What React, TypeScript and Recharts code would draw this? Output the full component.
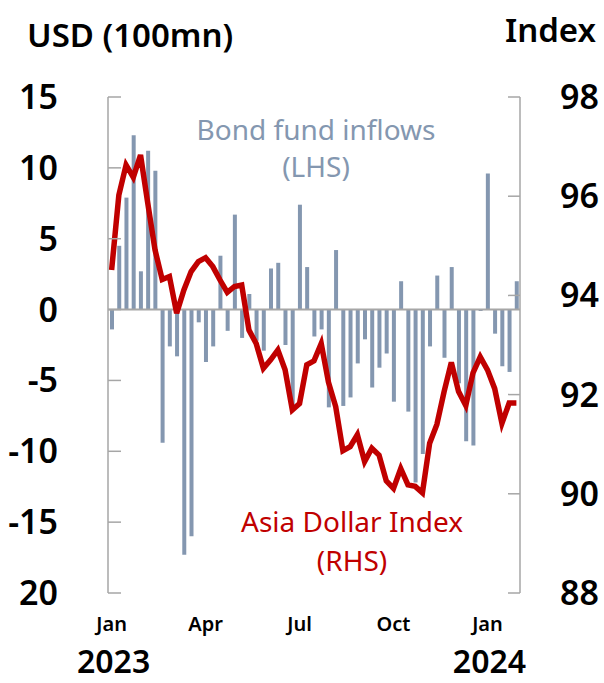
import { ComposedChart, Bar, Line, XAxis, YAxis, ReferenceLine } from 'recharts'

// week ending dates (Fridays)
const weeks = [
	'2023-01-06', '2023-01-13', '2023-01-20', '2023-01-27',
	'2023-02-03', '2023-02-10', '2023-02-17', '2023-02-24',
	'2023-03-03', '2023-03-10', '2023-03-17', '2023-03-24', '2023-03-31',
	'2023-04-07', '2023-04-14', '2023-04-21', '2023-04-28',
	'2023-05-05', '2023-05-12', '2023-05-19', '2023-05-26',
	'2023-06-02', '2023-06-09', '2023-06-16', '2023-06-23', '2023-06-30',
	'2023-07-07', '2023-07-14', '2023-07-21', '2023-07-28',
	'2023-08-04', '2023-08-11', '2023-08-18', '2023-08-25',
	'2023-09-01', '2023-09-08', '2023-09-15', '2023-09-22', '2023-09-29',
	'2023-10-06', '2023-10-13', '2023-10-20', '2023-10-27',
	'2023-11-03', '2023-11-10', '2023-11-17', '2023-11-24',
	'2023-12-01', '2023-12-08', '2023-12-15', '2023-12-22', '2023-12-29',
	'2024-01-05', '2024-01-12', '2024-01-19', '2024-01-26',
	'2024-02-02',
]

// USD 100mn, left axis
const bondFlows = [
	-1.4, 4.5, 7.9, 12.3, 2.7, 11.2, 9.8, -9.4, -2.6, -3.3,
	-17.3, -16.0, -0.9, -3.7, -2.6, 3.8, -1.5, 6.7, -2.0, 1.1,
	-2.2, -2.9, 2.9, 3.3, -2.5, -7.0, 7.4, 3.0, -1.9, -1.4,
	-6.9, 4.2, -6.8, -6.2, -3.8, -2.1, -5.5, -4.1, -3.1, -6.5,
	2.0, -7.2, -12.2, -10.2, -2.6, 2.4, -3.4, 3.0, -5.2, -9.3,
	-9.6, -0.1, 9.6, -1.7, -4.0, -4.4, 2.0,
]

// index, right axis
const asiaDollarIndex = [
	94.51, 96.02, 96.63, 96.38, 96.83, 95.86, 94.92, 94.32, 94.38, 93.64,
	94.11, 94.48, 94.68, 94.76, 94.58, 94.31, 94.06, 94.18, 94.21, 93.3,
	93.03, 92.53, 92.7, 92.9, 92.5, 91.69, 91.82, 92.6, 92.68, 93.03,
	92.25, 91.76, 90.87, 90.95, 91.19, 90.65, 90.92, 90.78, 90.26, 90.11,
	90.51, 90.18, 90.15, 90.02, 91.02, 91.4, 92.06, 92.65, 92.06, 91.78,
	92.44, 92.76, 92.5, 92.12, 91.42, 91.83, 91.83,
]

const leftTicks = [15, 10, 5, 0, -5, -10, -15, -20]
const leftTickLabels = ['15', '10', '5', '0', '-5', '-10', '-15', '20']
const rightTicks = [88, 90, 92, 94, 96, 98]
const monthTicks = ['2023-01-06', '2023-04-07', '2023-07-07', '2023-10-06', '2024-01-05']
const monthLabels = ['Jan', 'Apr', 'Jul', 'Oct', 'Jan']
const yearLabels = ['2023', '', '', '', '2024']

const data = weeks.map((week, i) => ({
	week,
	flows: bondFlows[i],
	adxy: asiaDollarIndex[i],
}))

const FONT = '"Noto Sans", sans-serif'
const AXIS_GREY = '#a6a6a6'
const BAR_COLOR = '#8497b0'
const LINE_COLOR = '#c00000'
const WEIGHT = 600

function LeftTick({ x, y, payload }: any) {
	const idx = leftTicks.indexOf(payload.value)
	return (
		<g>
			<line x1={x} x2={x + 13} y1={y} y2={y} stroke={AXIS_GREY} strokeWidth={1.5} />
			<text x={x - 50} y={y} dy={12} textAnchor="end" fontSize={34} fontWeight={WEIGHT} fontFamily={FONT} fill="#000">
				{leftTickLabels[idx]}
			</text>
		</g>
	)
}

function RightTick({ x, y, payload }: any) {
	return (
		<g>
			<line x1={x - 12} x2={x} y1={y} y2={y} stroke={AXIS_GREY} strokeWidth={1.5} />
			<text x={x + 40} y={y} dy={12} textAnchor="start" fontSize={34} fontWeight={WEIGHT} fontFamily={FONT} fill="#000">
				{payload.value}
			</text>
		</g>
	)
}

function MonthTick({ x, y, payload }: any) {
	const idx = monthTicks.indexOf(payload.value)
	if (idx < 0) return null
	return (
		<g>
			<text x={x} y={y + 38} textAnchor="middle" fontSize={20} fontWeight={WEIGHT} fontFamily={FONT} fill="#000">
				{monthLabels[idx]}
			</text>
			{yearLabels[idx] && (
				<text x={x + 2} y={y + 80} textAnchor="middle" fontSize={32} fontWeight={WEIGHT} fontFamily={FONT} fill="#000">
					{yearLabels[idx]}
				</text>
			)}
		</g>
	)
}

export default function App() {
	return (
		<div style={{ position: 'absolute', left: 0, top: 0, width: 604, height: 683, background: '#fff' }}>
			<ComposedChart
				width={604}
				height={683}
				data={data}
				margin={{ top: 97, right: 0, bottom: 0, left: 0 }}
			>
				<XAxis
					dataKey="week"
					ticks={monthTicks}
					interval={0}
					axisLine={false}
					tickLine={false}
					tickSize={0}
					tickMargin={0}
					height={90}
					tick={<MonthTick />}
				/>
				<YAxis
					yAxisId="left"
					width={108}
					domain={[-20, 15]}
					ticks={leftTicks}
					interval={0}
					axisLine={{ stroke: AXIS_GREY, strokeWidth: 1.5 }}
					tickLine={false}
					tickSize={0}
					tickMargin={0}
					tick={<LeftTick />}
				/>
				<YAxis
					yAxisId="right"
					orientation="right"
					width={84}
					domain={[88, 98]}
					ticks={rightTicks}
					interval={0}
					axisLine={{ stroke: AXIS_GREY, strokeWidth: 1.5 }}
					tickLine={false}
					tickSize={0}
					tickMargin={0}
					tick={<RightTick />}
				/>
				<ReferenceLine yAxisId="left" y={0} stroke={AXIS_GREY} strokeWidth={2} />
				<Bar yAxisId="left" dataKey="flows" fill={BAR_COLOR} barSize={4} isAnimationActive={false} />
				<Line
					yAxisId="right"
					dataKey="adxy"
					stroke={LINE_COLOR}
					strokeWidth={5.5}
					dot={false}
					type="linear"
					isAnimationActive={false}
				/>
			</ComposedChart>
			<svg
				width={604}
				height={683}
				style={{ position: 'absolute', left: 0, top: 0, pointerEvents: 'none' }}
			>
				<g fontFamily={FONT} fontWeight={WEIGHT}>
					<text x={27} y={47} fontSize={33} fill="#000">USD (100mn)</text>
					<text x={596} y={42} fontSize={33} fill="#000" textAnchor="end">Index</text>
					<text x={316} y={140} fontSize={28} fontWeight={400} fill={BAR_COLOR} textAnchor="middle">Bond fund inflows</text>
					<text x={316} y={177} fontSize={28} fontWeight={400} fill={BAR_COLOR} textAnchor="middle">(LHS)</text>
					<text x={352} y={532} fontSize={28} fontWeight={400} fill={LINE_COLOR} textAnchor="middle">Asia Dollar Index</text>
					<text x={352} y={571} fontSize={28} fontWeight={400} fill={LINE_COLOR} textAnchor="middle">(RHS)</text>
				</g>
			</svg>
		</div>
	)
}
